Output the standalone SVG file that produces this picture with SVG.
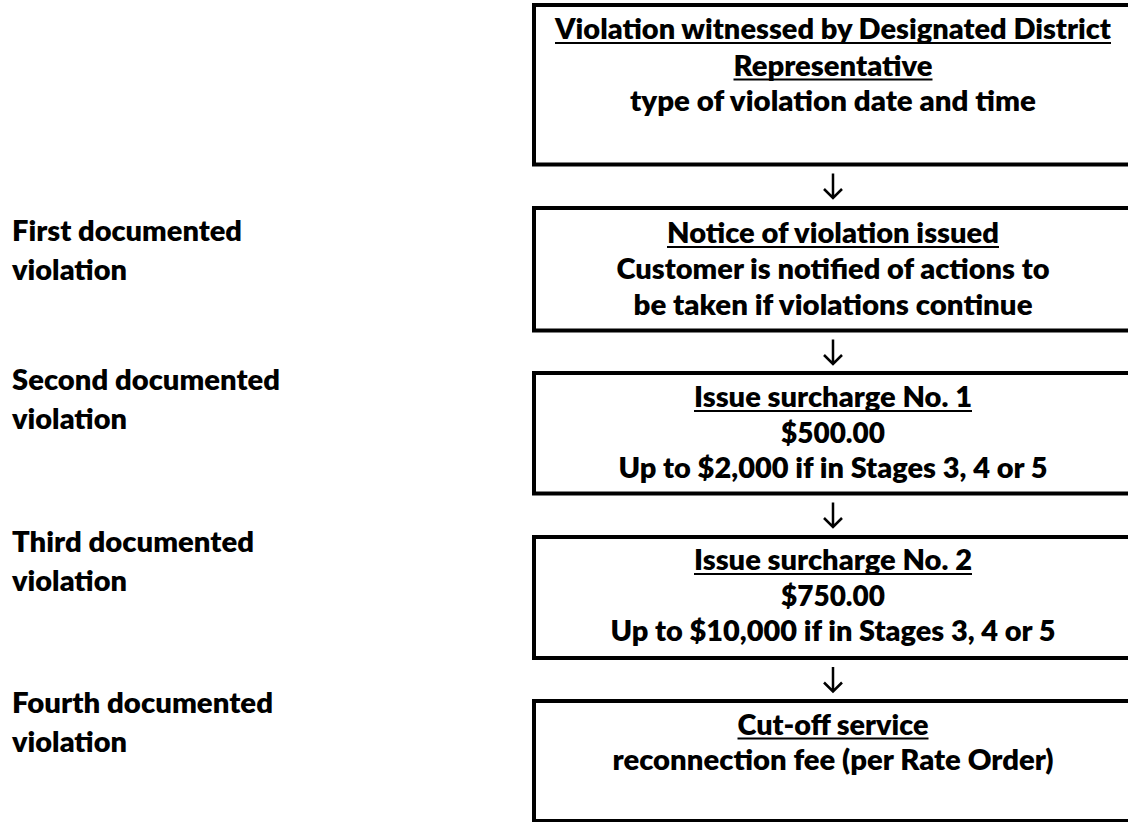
<svg xmlns="http://www.w3.org/2000/svg" width="1128" height="822" viewBox="0 0 1128 822">
<style>
.box{fill:#fff;stroke:#000;stroke-width:4}
.t{font-family:Lato,"Liberation Sans",sans-serif;font-weight:800;font-size:29px;fill:#000}
.c{text-anchor:middle}
.u{stroke:#000;stroke-width:2.2}
.arr{fill:none;stroke:#000;stroke-width:2.5;stroke-linecap:butt}
</style>
<rect width="1128" height="822" fill="#fff"/>
<g id="labels">
<g id="label-first">
<text class="t" x="12" y="241" textLength="230" lengthAdjust="spacingAndGlyphs">First documented</text>
<text class="t" x="12" y="280" textLength="115" lengthAdjust="spacingAndGlyphs">violation</text>
</g>
<g id="label-second">
<text class="t" x="12" y="390" textLength="268" lengthAdjust="spacingAndGlyphs">Second documented</text>
<text class="t" x="12" y="429" textLength="115" lengthAdjust="spacingAndGlyphs">violation</text>
</g>
<g id="label-third">
<text class="t" x="12" y="552" textLength="242" lengthAdjust="spacingAndGlyphs">Third documented</text>
<text class="t" x="12" y="591" textLength="115" lengthAdjust="spacingAndGlyphs">violation</text>
</g>
<g id="label-fourth">
<text class="t" x="12" y="713" textLength="261" lengthAdjust="spacingAndGlyphs">Fourth documented</text>
<text class="t" x="12" y="752" textLength="115" lengthAdjust="spacingAndGlyphs">violation</text>
</g>
</g>
<g id="node-witnessed">
<rect class="box" x="534" y="5" width="598" height="159.5"/>
<text class="t c" x="833" y="39" textLength="556" lengthAdjust="spacingAndGlyphs">Violation witnessed by Designated District</text>
<line class="u" x1="555" y1="43" x2="1111" y2="43"/>
<text class="t c" x="833" y="75.5" textLength="199" lengthAdjust="spacingAndGlyphs">Representative</text>
<line class="u" x1="733.5" y1="79.5" x2="932.5" y2="79.5"/>
<text class="t c" x="833" y="110.5" textLength="406" lengthAdjust="spacingAndGlyphs">type of violation date and time</text>
</g>
<g id="node-notice">
<rect class="box" x="534" y="208" width="598" height="122.5"/>
<text class="t c" x="833" y="243" textLength="332" lengthAdjust="spacingAndGlyphs">Notice of violation issued</text>
<line class="u" x1="667" y1="247" x2="999" y2="247"/>
<text class="t c" x="833" y="279" textLength="433" lengthAdjust="spacingAndGlyphs">Customer is notified of actions to</text>
<text class="t c" x="833" y="314.5" textLength="399" lengthAdjust="spacingAndGlyphs">be taken if violations continue</text>
</g>
<g id="node-surcharge1">
<rect class="box" x="534" y="373" width="598" height="120.5"/>
<text class="t c" x="833" y="407" textLength="278" lengthAdjust="spacingAndGlyphs">Issue surcharge No. 1</text>
<line class="u" x1="694" y1="411" x2="972" y2="411"/>
<text class="t c" x="833" y="442.5" textLength="104" lengthAdjust="spacingAndGlyphs">$500.00</text>
<text class="t c" x="833" y="478" textLength="429" lengthAdjust="spacingAndGlyphs">Up to $2,000 if in Stages 3, 4 or 5</text>
</g>
<g id="node-surcharge2">
<rect class="box" x="534" y="537" width="598" height="121"/>
<text class="t c" x="833" y="570" textLength="278" lengthAdjust="spacingAndGlyphs">Issue surcharge No. 2</text>
<line class="u" x1="694" y1="574" x2="972" y2="574"/>
<text class="t c" x="833" y="605.5" textLength="104" lengthAdjust="spacingAndGlyphs">$750.00</text>
<text class="t c" x="833" y="640.5" textLength="445" lengthAdjust="spacingAndGlyphs">Up to $10,000 if in Stages 3, 4 or 5</text>
</g>
<g id="node-cutoff">
<rect class="box" x="534" y="701" width="598" height="120"/>
<text class="t c" x="833" y="734.5" textLength="191" lengthAdjust="spacingAndGlyphs">Cut-off service</text>
<line class="u" x1="737.5" y1="738.5" x2="928.5" y2="738.5"/>
<text class="t c" x="833" y="770" textLength="441" lengthAdjust="spacingAndGlyphs">reconnection fee (per Rate Order)</text>
</g>
<g id="connectors">
<path class="arr" d="M833,173.5 V198 M824,189 L833,198 L842,189"/>
<path class="arr" d="M833,339.5 V364 M824,355 L833,364 L842,355"/>
<path class="arr" d="M833,502.5 V527 M824,518 L833,527 L842,518"/>
<path class="arr" d="M833,667 V691.5 M824,682.5 L833,691.5 L842,682.5"/>
</g>
</svg>
